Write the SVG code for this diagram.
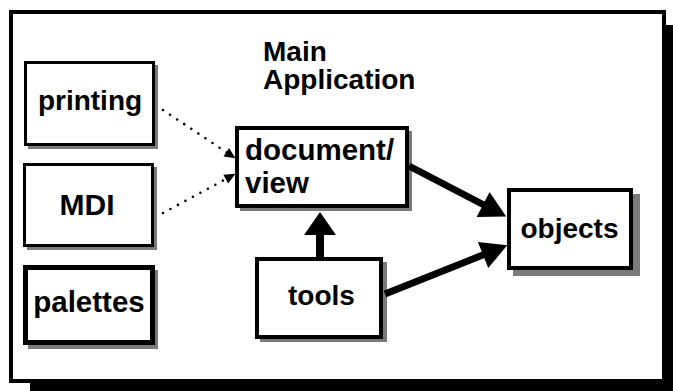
<svg xmlns="http://www.w3.org/2000/svg" width="673" height="391" viewBox="0 0 673 391">
  <style>
    .lbl { font-family: "Liberation Sans", Arial, sans-serif; font-weight: bold; font-size: 28px; fill: #000; }
    .mid { text-anchor: middle; }
    .box { fill: #fff; stroke: #000; stroke-width: 3; }
    .shade { fill: #7a7a7a; }
    .dot { fill: none; stroke: #000; stroke-width: 2.6; stroke-linecap: round; stroke-dasharray: 0 8.5; }
    .thick { fill: none; stroke: #000; stroke-width: 7; }
  </style>
  <defs>
    <marker id="small" markerUnits="userSpaceOnUse" markerWidth="11" markerHeight="10" refX="0.5" refY="5" orient="auto" overflow="visible">
      <path d="M0,0 L11,5 L0,10 z" fill="#000"/>
    </marker>
    <marker id="big" markerUnits="userSpaceOnUse" markerWidth="26" markerHeight="28" refX="1" refY="14" orient="auto" overflow="visible">
      <path d="M0,0 L26,14 L0,28 z" fill="#000"/>
    </marker>
    <marker id="bigUp" markerUnits="userSpaceOnUse" markerWidth="23" markerHeight="32" refX="1" refY="16" orient="auto" overflow="visible">
      <path d="M0,0 L23,16 L0,32 z" fill="#000"/>
    </marker>
  </defs>

  <!-- outer frame with heavy drop shadow -->
  <g id="frame">
    <rect x="665" y="25" width="8" height="366" fill="#000"/>
    <rect x="30" y="382" width="643" height="9" fill="#000"/>
    <rect x="11" y="12" width="653" height="369" fill="#fff" stroke="#000" stroke-width="4"/>
  </g>

  <g id="title">
    <text class="lbl" x="263" y="61">Main</text>
    <text class="lbl" x="263" y="89">Application</text>
  </g>

  <g id="printing">
    <rect class="shade" x="28" y="65" width="130" height="84"/>
    <rect class="box" x="25.5" y="62.5" width="128" height="82"/>
    <text class="lbl mid" x="90" y="110">printing</text>
  </g>

  <g id="mdi">
    <rect class="shade" x="27" y="167" width="130" height="83"/>
    <rect class="box" x="24.5" y="164.5" width="128" height="81"/>
    <text class="lbl mid" x="87" y="215" style="font-size:30px">MDI</text>
  </g>

  <g id="palettes">
    <rect class="shade" x="28" y="270" width="130" height="79"/>
    <rect class="box" x="25.5" y="267.5" width="127" height="75" style="stroke-width:5"/>
    <text class="lbl mid" x="89" y="312" style="font-size:29.5px">palettes</text>
  </g>

  <g id="document-view">
    <rect class="shade" x="240" y="131" width="172" height="80"/>
    <rect class="box" x="237" y="128" width="170" height="78" style="stroke-width:4"/>
    <text class="lbl" x="245" y="160" style="font-size:29.5px">document/</text>
    <text class="lbl" x="245" y="193" style="font-size:29.5px">view</text>
  </g>

  <g id="tools">
    <rect class="shade" x="260" y="262" width="127" height="80"/>
    <rect class="box" x="257" y="259" width="124" height="78" style="stroke-width:4"/>
    <text class="lbl mid" x="321.5" y="305">tools</text>
  </g>

  <g id="objects">
    <rect class="shade" x="513" y="194" width="127" height="82"/>
    <rect class="box" x="509" y="190" width="122" height="78" style="stroke-width:4"/>
    <text class="lbl mid" x="569.5" y="238">objects</text>
  </g>

  <g id="connectors">
    <path class="dot" d="M163,110 L226.7,152.5" marker-end="url(#small)"/>
    <path class="dot" d="M163,213 L226.2,178.8" marker-end="url(#small)"/>
    <path class="thick" d="M409,166 L484,205" marker-end="url(#big)"/>
    <path class="thick" d="M385,294 L484,254.6" marker-end="url(#big)"/>
    <path class="thick" d="M320,257 L320,234" style="stroke-width:8" marker-end="url(#bigUp)"/>
  </g>
</svg>
